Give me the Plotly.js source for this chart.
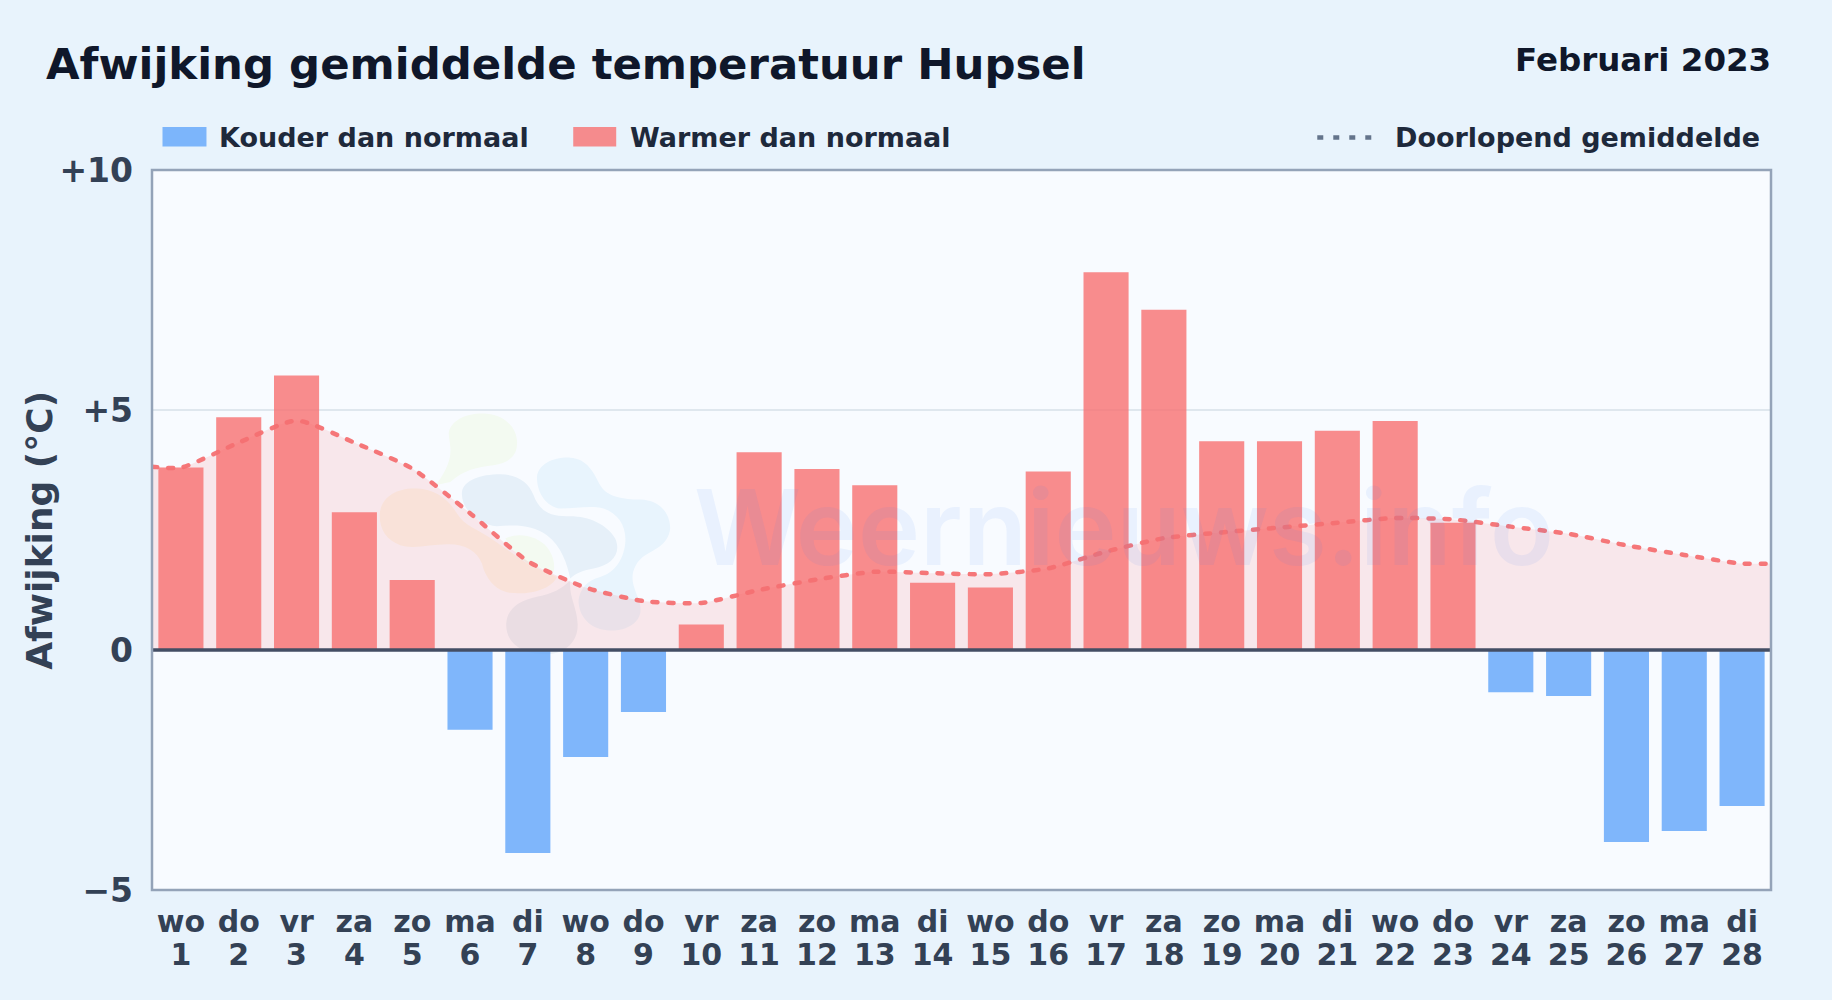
<!DOCTYPE html>
<html><head><meta charset="utf-8">
<script src="https://cdn.plot.ly/plotly-3.0.1.min.js"></script>
<style>html,body{margin:0;padding:0;background:#e8f3fc;overflow:hidden}</style>
</head><body><div id="chart" style="width:1832px;height:1000px"></div>
<script>
const weekdays = ['wo','do','vr','za','zo','ma','di','wo','do','vr','za','zo','ma','di','wo','do','vr','za','zo','ma','di','wo','do','vr','za','zo','ma','di'];
const days = [1,2,3,4,5,6,7,8,9,10,11,12,13,14,15,16,17,18,19,20,21,22,23,24,25,26,27,28];
const warmer = [3.8,4.85,5.72,2.87,1.46,null,null,null,null,0.53,4.12,3.77,3.43,1.4,1.3,3.72,7.87,7.09,4.35,4.35,4.57,4.77,2.65,null,null,null,null,null];
const kouder = [null,null,null,null,null,-1.66,-4.23,-2.23,-1.29,null,null,null,null,null,null,null,null,null,null,null,null,null,null,-0.88,-0.96,-4.0,-3.77,-3.25];
const meanX = [0.5,1,2,3,4,5,6,7,8,9,10,11,12,13,14,15,16,17,18,19,20,21,22,23,24,25,26,27,28,28.5];
const meanY = [3.82,3.8,4.32,4.78,4.32,3.78,2.85,1.85,1.3,1.02,0.98,1.25,1.47,1.63,1.6,1.58,1.7,2.05,2.33,2.45,2.55,2.65,2.75,2.72,2.57,2.42,2.18,1.98,1.8,1.8];
const yTicks = [-5,0,5,10];
const yLabels = ['−5','0','+5','+10'];

const W=1832,H=1000,L=151.5,R=1771.5,T=169.5,B=890;
const px=x=>(x-L)/(R-L), py=y=>(B-y)/(B-T);
const ink='#1e293b', axisInk='#334155', head='#0f172a';
const font=(s,c)=>({family:'"DejaVu Sans", sans-serif',size:s,color:c,weight:700});

const logo=`<svg xmlns="http://www.w3.org/2000/svg" viewBox="0 0 990 810" width="990" height="810">
<g fill="#f3faf1"><path d="M235 100C240 55 300 35 350 40C410 45 445 90 440 135C438 170 410 190 370 195C320 200 280 210 240 245L195 255C220 225 245 180 240 140Z"/>
<path d="M405 415C440 395 500 405 530 440C550 465 555 495 550 515L470 490C440 465 420 440 405 415Z"/></g>
<path fill="#faf5ea" d="M28 345C30 290 80 262 140 265C190 268 230 290 260 340C285 380 320 385 370 420L470 490L560 530C545 565 480 585 420 578C370 570 345 530 335 490C320 450 280 430 230 432C180 432 130 448 90 435C50 420 28 390 28 345Z"/>
<path fill="#e6f0f9" d="M275 275C280 240 330 222 390 222C440 222 475 245 490 285C505 325 530 348 590 348C650 345 710 370 735 415C755 460 725 495 670 505C640 510 615 520 600 535C590 490 575 440 530 405C490 375 440 372 380 378C330 375 270 330 275 275Z"/>
<path fill="#e8f4fd" d="M500 230C505 190 550 170 600 172C650 175 670 215 690 255C710 290 760 298 810 298C870 300 900 340 900 385C895 430 860 445 825 465C795 485 780 520 790 555C800 590 815 610 810 640C800 680 750 695 710 690C660 685 625 650 625 600C630 565 650 540 690 530C730 520 760 480 765 430C770 380 745 340 700 325C660 315 620 325 570 325C530 320 500 280 500 230Z"/>
<path fill="#e8eff6" d="M408 670C410 625 450 600 500 590C550 580 575 565 600 540C595 590 620 620 622 670C625 720 590 760 530 762C460 765 405 730 408 670Z"/>
</svg>`;

const traces=[
 {type:'bar',name:'Warmer dan normaal',x:days,y:warmer,width:0.78,xaxis:'x',yaxis:'y',marker:{color:'rgba(248,113,113,0.8)',line:{width:0}},hoverinfo:'x+y'},
 {type:'bar',name:'Kouder dan normaal',x:days,y:kouder,width:0.78,xaxis:'x',yaxis:'y',marker:{color:'rgba(96,165,250,0.8)',line:{width:0}},hoverinfo:'x+y'},
 {type:'scatter',mode:'lines',name:'Doorlopend gemiddelde',x:meanX,y:meanY,xaxis:'x2',yaxis:'y',
  line:{color:'rgba(244,112,114,0.95)',width:4.5,dash:'5px,11px',shape:'spline',smoothing:0.6},fill:'tozeroy',fillcolor:'rgba(248,113,113,0.14)',hoverinfo:'x+y'}
];
const ann=(x,y,text,size,color,anchor)=>({xref:'paper',yref:'paper',x:px(x),y:py(y),text,showarrow:false,xanchor:anchor||'left',yanchor:'middle',font:font(size,color),borderpad:0,captureevents:false});
const layout={
 width:W,height:H,paper_bgcolor:'#e8f3fc',plot_bgcolor:'#f8fbff',showlegend:false,barmode:'overlay',
 margin:{l:L,r:W-R,t:T,b:H-B,pad:0},
 title:{text:'Afwijking gemiddelde temperatuur Hupsel',font:font(43.4,head),xref:'container',yref:'container',x:46/W,xanchor:'left',y:1-64/H,yanchor:'middle'},
 xaxis:{range:[0.5,28.5],tickmode:'array',tickvals:days,ticktext:weekdays,tickfont:font(30,axisInk),ticks:'',ticklen:0,showgrid:false,zeroline:false,showline:false,fixedrange:true,ticklabelstandoff:11},
 xaxis2:{overlaying:'x',anchor:'y',side:'bottom',range:[0.5,28.5],tickmode:'array',tickvals:days,ticktext:days.map(String),tickfont:font(30,axisInk),ticks:'',showgrid:false,zeroline:false,showline:false,fixedrange:true,ticklabelstandoff:44},
 yaxis:{range:[-5,10],tickmode:'array',tickvals:yTicks,ticktext:yLabels,tickfont:font(33,axisInk),ticks:'',showgrid:true,gridcolor:'#dfe7ee',gridwidth:1.5,zeroline:false,showline:false,fixedrange:true,ticklabelstandoff:18},
 images:[{source:'data:image/svg+xml;charset=utf-8,'+encodeURIComponent(logo),xref:'paper',yref:'paper',x:px(370),y:py(400),sizex:330/(R-L),sizey:270/(B-T),sizing:'stretch',xanchor:'left',yanchor:'top',layer:'below'}],
 shapes:[
  {type:'line',xref:'paper',yref:'y',x0:0,x1:1,y0:0,y1:0,line:{color:'#444e64',width:3.5},layer:'above'},
  {type:'rect',xref:'paper',yref:'paper',x0:0,x1:1,y0:0,y1:1,line:{color:'#94a3b8',width:2.5},fillcolor:'rgba(0,0,0,0)',layer:'above'},
  {type:'rect',xref:'paper',yref:'paper',x0:px(162),x1:px(206),y0:py(126.5),y1:py(146),line:{width:0},fillcolor:'rgba(96,165,250,0.8)',layer:'above'},
  {type:'rect',xref:'paper',yref:'paper',x0:px(573),x1:px(616),y0:py(126.5),y1:py(146),line:{width:0},fillcolor:'rgba(248,113,113,0.8)',layer:'above'},
  {type:'line',xref:'paper',yref:'paper',x0:px(1317.5),x1:px(1375),y0:py(137),y1:py(137),line:{color:'#64748b',width:4.5,dash:'6px,10px'},layer:'above'}
 ],
 annotations:[
  ann(R+1.5,59,'Februari 2023',32.5,head,'right'),
  ann(217.5,137,'Kouder dan normaal',27,ink),
  ann(628.5,137,'Warmer dan normaal',27,ink),
  ann(1394.5,137,'Doorlopend gemiddelde',27,ink),
  Object.assign(ann(39,530,'Afwijking (°C)',36,axisInk,'center'),{textangle:-90}),
  {xref:'paper',yref:'paper',x:px(1124),y:py(526),text:'Weernieuws.info',showarrow:false,xanchor:'center',yanchor:'middle',
   font:{family:'Inter, sans-serif',size:105,weight:600,color:'rgba(59,130,246,0.08)'}}
 ]
};
Plotly.newPlot('chart',traces,layout,{displayModeBar:false,staticPlot:true}).then(()=>{
  document.querySelectorAll('.scatterlayer .js-line').forEach(p=>p.style.strokeLinecap='round');
});
</script></body></html>
